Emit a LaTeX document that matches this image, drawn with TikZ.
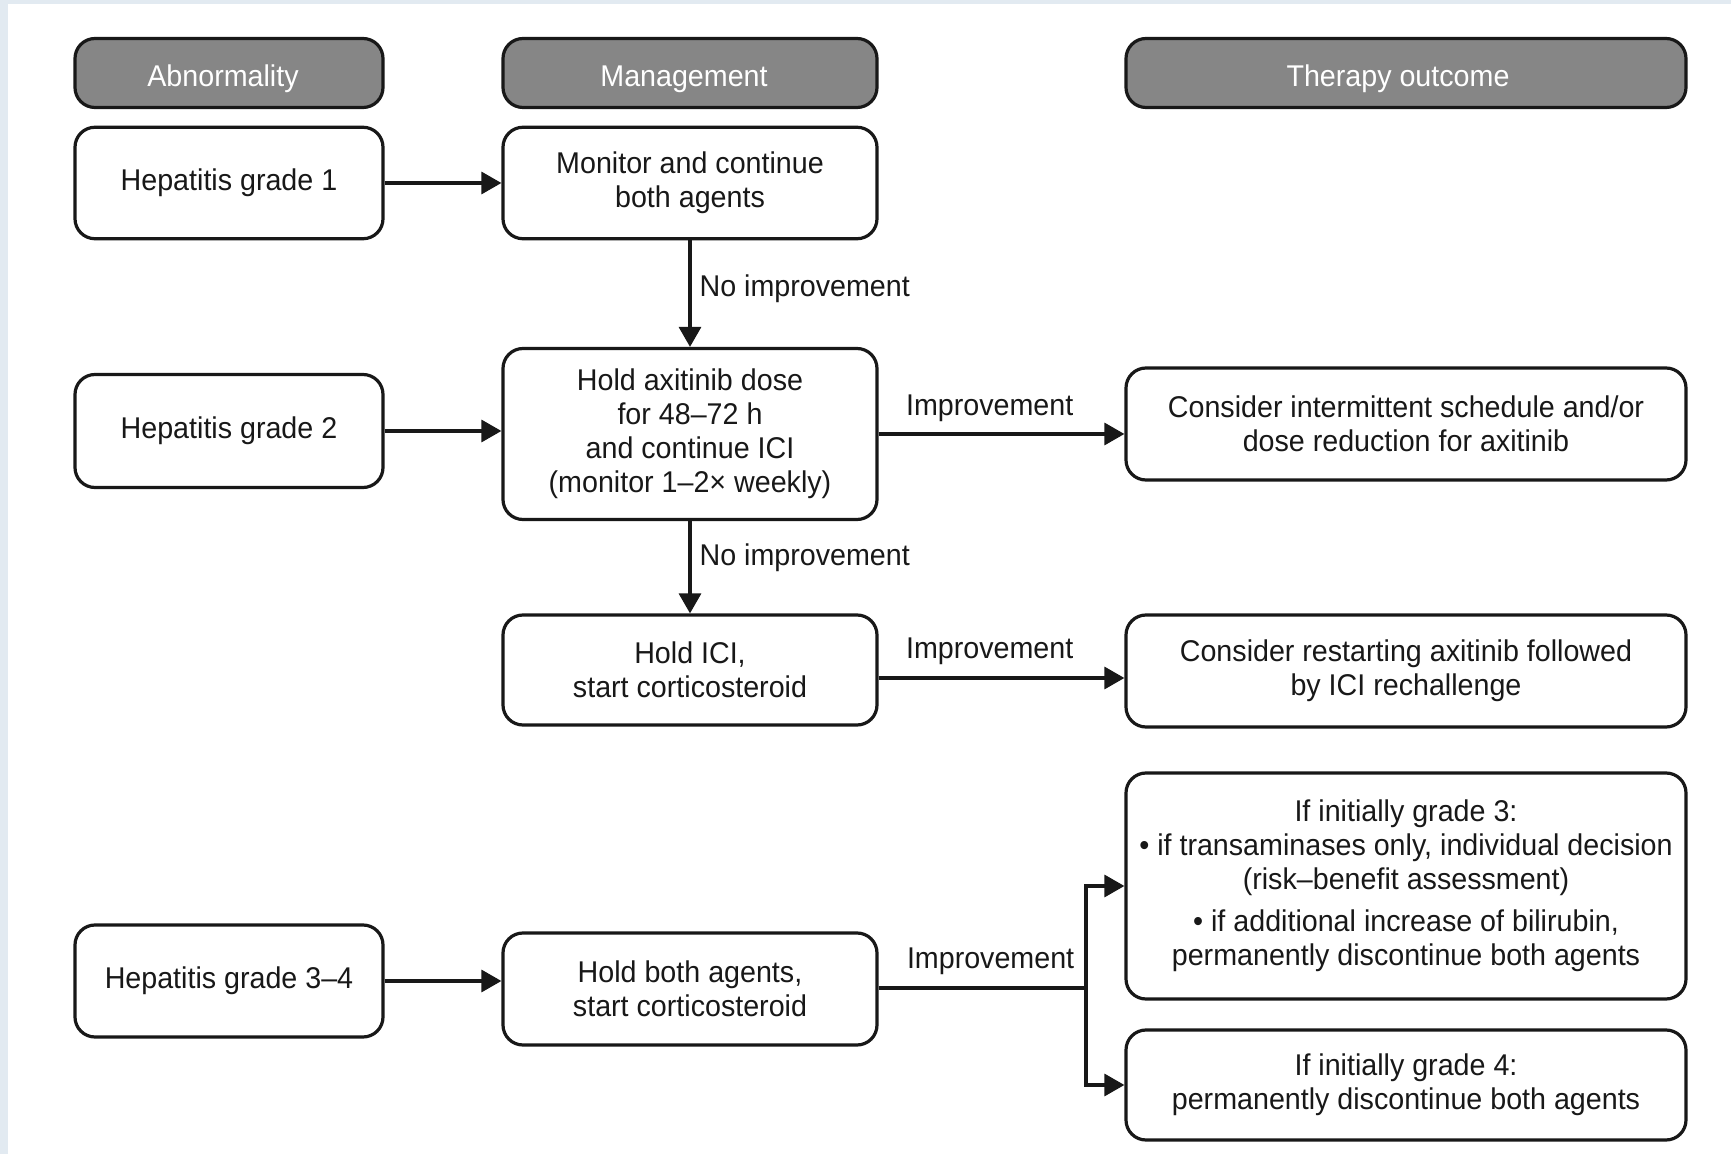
\documentclass[tikz,border=0pt]{standalone}
\usepackage{fontspec}
\setmainfont{Liberation Sans}[FakeStretch=0.955]
\usetikzlibrary{arrows.meta}

\definecolor{framebg}{RGB}{226,234,241}
\definecolor{headfill}{RGB}{134,134,134}
\definecolor{ink}{RGB}{24,24,24}

\begin{document}
\begin{tikzpicture}[x=0.5pt, y=-0.5pt,
  txt/.style={font=\fontsize{15}{17}\selectfont, text=ink},
  box/.style={txt, draw=ink, line width=1.6pt, rounded corners=10pt,
              fill=white, align=center, inner sep=0pt},
  head/.style={box, fill=headfill, text=white, minimum height=34.5pt,
               text height=13.8pt, text depth=0pt},
  colA/.style={minimum width=154pt},
  colM/.style={minimum width=187pt},
  colT/.style={minimum width=280pt},
  arr/.style={draw=ink, line width=1.6pt,
              -{Triangle[length=10pt,width=11pt]}},
  lineonly/.style={draw=ink, line width=1.6pt},
  lbl/.style={txt, inner sep=0pt}
]
% page background with its light frame on the left and top
\fill[framebg] (0,0) rectangle (1731,1154);
\fill[white] (8,4) rectangle (1731,1154);
\useasboundingbox (0,0) rectangle (1731,1154);

% column headers (titles sit a little left of centre)
\node[head, colA] (hA) at (229,73)    {\hspace*{-6pt}Abnormality};
\node[head, colM] (hM) at (690,73)    {\hspace*{-6pt}Management};
\node[head, colT] (hT) at (1406,73)   {\hspace*{-8pt}Therapy outcome};

% grade 1
\node[box, colA, minimum height=55.75pt] (hep1) at (229,183) {Hepatitis grade 1};
\node[box, colM, minimum height=55.75pt] (mon)  at (690,183) {Monitor and continue\\both agents};

% grade 2
\node[box, colA, minimum height=56.5pt] (hep2) at (229,431) {Hepatitis grade 2};
\node[box, colM, minimum height=85.5pt] (hold) at (690,434)
  {Hold axitinib dose\\for 48--72 h\\and continue ICI\\(monitor 1--2× weekly)};
\node[box, colT, minimum height=56pt] (cons1) at (1406,424)
  {Consider intermittent schedule and/or\\dose reduction for axitinib};

% corticosteroid step
\node[box, colM, minimum height=55pt] (ici) at (690,670) {Hold ICI,\\start corticosteroid};
\node[box, colT, minimum height=56pt] (cons2) at (1406,671)
  {Consider restarting axitinib followed\\by ICI rechallenge};

% grade 3-4
\node[box, colA, minimum height=56pt] (hep34) at (229,981) {Hepatitis grade 3--4};
\node[box, colM, minimum height=56pt] (both) at (690,989) {Hold both agents,\\start corticosteroid};
\node[box, colT, minimum height=113pt] (g3) at (1406,886)
  {If initially grade 3:\\
   • if transaminases only, individual decision\\
   (risk--benefit assessment)\\[4pt]
   • if additional increase of bilirubin,\\
   permanently discontinue both agents};
\node[box, colT, minimum height=55pt] (g4) at (1406,1085)
  {If initially grade 4:\\permanently discontinue both agents};

% connectors
\draw[arr] (hep1.east) -- (hep1.east -| mon.west);
\draw[arr] (mon.south) -- (hold.north)
  node[lbl, pos=0.45, anchor=west, xshift=4pt] {No improvement};
\draw[arr] (hep2.east) -- (hep2.east -| hold.west);
\draw[arr] (hold.east) -- (hold.east -| cons1.west)
  node[lbl, pos=0.452, anchor=base, yshift=9pt] {Improvement};
\draw[arr] (hold.south) -- (ici.north)
  node[lbl, pos=0.4, anchor=west, xshift=4pt] {No improvement};
\draw[arr] ([yshift=-4pt]ici.east) -- ([yshift=-4pt]ici.east -| cons2.west)
  node[lbl, pos=0.452, anchor=base, yshift=9.5pt] {Improvement};
\draw[arr] (hep34.east) -- (hep34.east -| both.west);

% split after improvement from grade 3-4
\coordinate (split) at (1086,988);
\draw[lineonly] (both.east |- split) -- (split)
  node[lbl, pos=0.54, anchor=base, yshift=10pt] {Improvement};
\draw[arr] (split) |- (g3.west);
\draw[arr] (split) |- (g4.west);
\end{tikzpicture}
\end{document}
